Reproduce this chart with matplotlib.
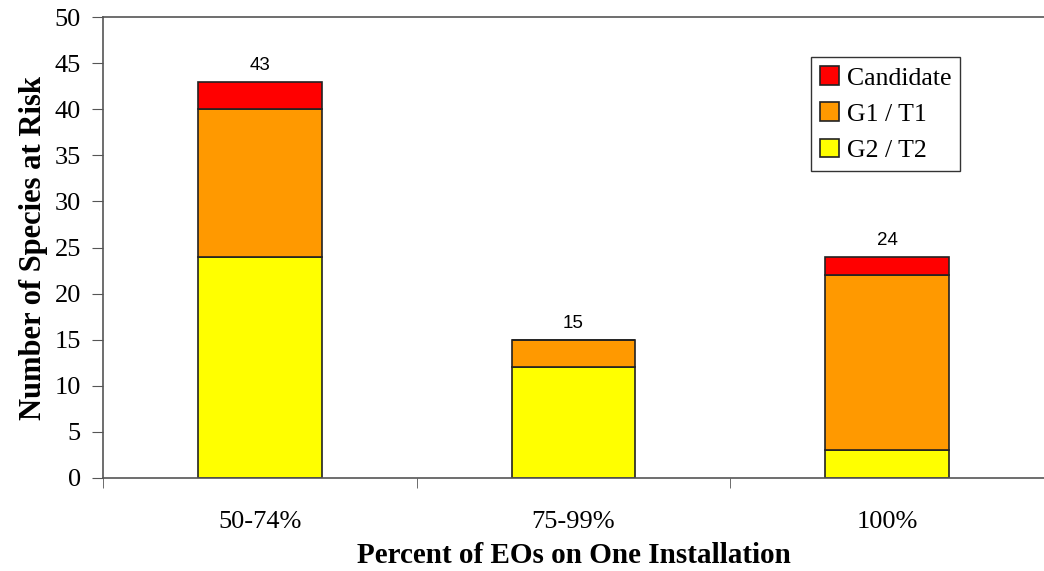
import numpy as np
import matplotlib.pyplot as plt

categories = ['50-74%', '75-99%', '100%']
g2_t2 = [24, 12, 3]
g1_t1 = [16, 3, 19]
candidate = [3, 0, 2]

serif = ['Liberation Serif', 'DejaVu Serif']

fig = plt.figure(figsize=(10.44, 5.71), dpi=100)
ax = fig.add_axes([0.0987, 0.163, 0.9013, 0.807])

x = np.arange(len(categories))
w = 0.395
edge = dict(edgecolor='#222222', linewidth=1.2)

ax.bar(x, g2_t2, w, color='#FFFF00', label='G2 / T2', **edge)
ax.bar(x, g1_t1, w, bottom=g2_t2, color='#FF9900', label='G1 / T1', **edge)
base = np.array(g2_t2) + np.array(g1_t1)
ax.bar(x, candidate, w, bottom=base, color='#FF0000', label='Candidate', **edge)

totals = base + np.array(candidate)
for xi, t in zip(x, totals):
    ax.text(xi, t + 0.8, str(t), ha='center', va='bottom',
            fontsize=13.5, family=['Liberation Sans', 'DejaVu Sans'])

ax.set_ylim(0, 50)
ax.set_yticks(range(0, 51, 5))
ax.set_xlim(-0.5, 2.466)
ax.set_xticks(x)
ax.set_xticklabels(categories)
ax.set_xticks([-0.5, 0.5, 1.5, 2.5], minor=True)
ax.tick_params(axis='x', which='major', length=0, pad=24)
ax.tick_params(axis='x', which='minor', length=7, direction='out', color='#555555')
ax.tick_params(axis='y', length=8, direction='out', color='#555555', pad=8)
for lab in ax.get_xticklabels() + ax.get_yticklabels():
    lab.set_family(serif)
    lab.set_fontsize(19)

ax.spines['right'].set_visible(False)
for s in ['left', 'bottom', 'top']:
    ax.spines[s].set_color('#555555')
    ax.spines[s].set_linewidth(1.2)

ax.set_ylabel('Number of Species at Risk', family=serif, fontsize=22,
              fontweight='bold', labelpad=5)
ax.set_xlabel('Percent of EOs on One Installation', family=serif, fontsize=21,
              fontweight='bold', labelpad=6)

handles, labels = ax.get_legend_handles_labels()
leg = ax.legend(handles[::-1], labels[::-1], loc='upper left',
                bbox_to_anchor=(0.752, 0.913), prop={'family': serif, 'size': 18.5},
                fancybox=False, framealpha=1, edgecolor='#333333',
                handlelength=0.75, handleheight=0.75, handletextpad=0.3,
                labelspacing=0.5, borderpad=0.35, borderaxespad=0)
leg.get_frame().set_linewidth(1.0)

fig.savefig('out.png', dpi=100)
